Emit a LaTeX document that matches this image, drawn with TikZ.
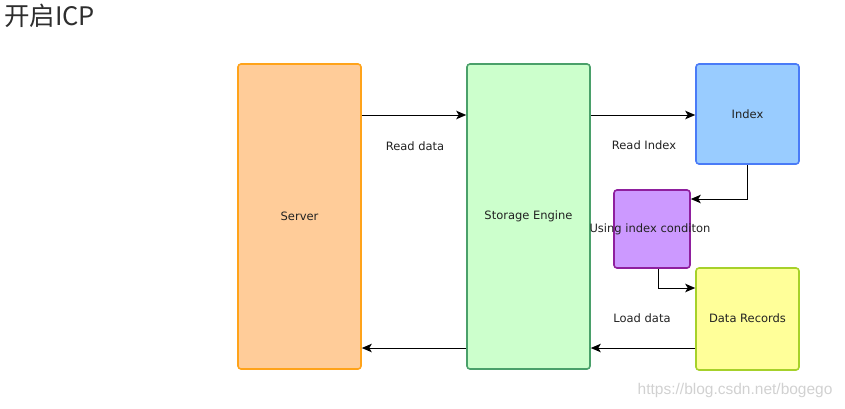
\documentclass[tikz,border=0pt]{standalone}
\usepackage{fontspec}
\setmainfont{DejaVu Sans}
\newfontfamily\cjkfont{Noto Sans CJK SC}
\newfontfamily\wmfont{Liberation Sans}
\usepackage{tikz}
\usetikzlibrary{arrows.meta}
\definecolor{srvfill}{HTML}{FFCC99}
\definecolor{srvline}{HTML}{FFA31A}
\definecolor{engfill}{HTML}{CCFFCC}
\definecolor{engline}{HTML}{4AA06A}
\definecolor{idxfill}{HTML}{99CCFF}
\definecolor{idxline}{HTML}{4A7BF7}
\definecolor{condfill}{HTML}{CC99FF}
\definecolor{condline}{HTML}{8F1F9E}
\definecolor{recfill}{HTML}{FFFF99}
\definecolor{recline}{HTML}{A6D12A}
\definecolor{txt}{HTML}{222222}
\tikzstyle{whrectround} = [rectangle, rounded corners=3pt,
line width=1.6pt,
text centered,
text=txt,
font=\fontsize{11.5}{13}\selectfont]
\tikzstyle{lbl} = [text=txt, font=\fontsize{11.5}{13}\selectfont]
\tikzstyle{conn} = [line width=0.9pt, -{Stealth[length=10pt, width=8.5pt, inset=2.5pt]}]

\begin{document}
\begin{tikzpicture}[x=1pt, y=-1pt]
		\useasboundingbox (0,0) rectangle (845,408);
		\node (title) [anchor=west, font=\fontsize{25.5}{28}\selectfont, text=black!82] at (0.5,16) {\cjkfont 开启ICP};

		\node (server) [whrectround, draw=srvline, fill=srvfill, minimum width=123pt, minimum height=305pt] at (299.5,216.5) {Server};
		\node (engine) [whrectround, draw=engline, fill=engfill, minimum width=123pt, minimum height=305pt] at (528.5,216.5) {Storage Engine};
		\node (index) [whrectround, draw=idxline, fill=idxfill, minimum width=103pt, minimum height=100pt] at (747.5,114) {Index};
		\node (cond) [whrectround, draw=condline, fill=condfill, minimum width=76pt, minimum height=78pt] at (652,229) {};
		\node (condtext) [lbl] at (650,229) {Using index conditon};
		\node (records) [whrectround, draw=recline, fill=recfill, minimum width=103pt, minimum height=102pt] at (747.5,319) {};
		\node (rectext) [lbl] at (747.5,318) {Data Records};

		\draw [conn] (server.east |- 0,115) -- (engine.west |- 0,115);
		\node (readdata) [lbl] at (415,146) {Read data};
		\draw [conn] (engine.east |- 0,115) -- (index.west |- 0,115);
		\node (readindex) [lbl] at (644,145) {Read Index};
		\draw [conn] (index.south) |- (cond.east |- 0,199);
		\draw [conn] (cond.south -| 658,0) |- (records.west |- 0,288);
		\draw [conn] (records.west |- 0,348) -- (engine.east |- 0,348);
		\node (loaddata) [lbl] at (642,318) {Load data};
		\draw [conn] (engine.west |- 0,348) -- (server.east |- 0,348);

		\node (mark) [anchor=east, text=black!18, font=\wmfont\fontsize{15.5}{17}\selectfont] at (836,390) {https://blog.csdn.net/bogego};
	\end{tikzpicture}
\end{document}
